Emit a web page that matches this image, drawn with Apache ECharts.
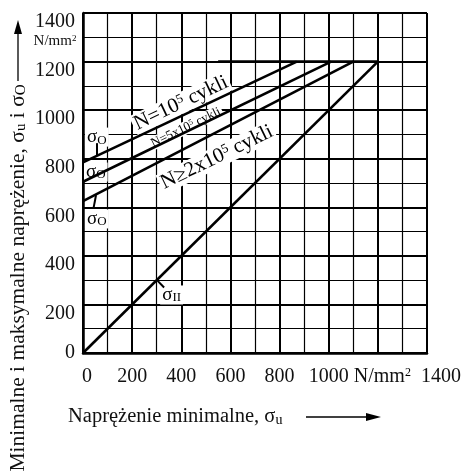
<!DOCTYPE html>
<html>
<head>
<meta charset="utf-8">
<script src="https://cdn.jsdelivr.net/npm/echarts@6/dist/echarts.min.js"></script>
<style>html,body{margin:0;padding:0;background:#fff}#c{width:464px;height:471px}</style>
</head>
<body>
<div id="c"></div>
<script>
// ---- data ----
const xTicks = [0, 200, 400, 600, 800, 1000, 1200, 1400];
const yTicks = [0, 200, 400, 600, 800, 1000, 1200, 1400];
const unitLabel = 'N/mm';
const unitPower = '2';
const n1e5X = [0, 870];    const n1e5Y = [785, 1200];   // N=10^5 cykli
const n5e5X = [0, 1010];   const n5e5Y = [705, 1200];   // N=5x10^5 cykli
const n2e5X = [0, 1100];   const n2e5Y = [625, 1200];   // N>=2x10^5 cykli
const sigmaUX = [0, 1200]; const sigmaUY = [0, 1200];   // sigma_u line
const limitX = [550, 1200]; const limitY = [1200, 1200]; // upper limit
const yTitle = 'Minimalne i maksymalne naprężenie, σ{sub|u} i σ{sub|O}';
const xTitle = 'Naprężenie minimalne, σ{sub|u}';

const FF = '"Liberation Serif","Times New Roman",serif';
const zip = (xs, ys) => xs.map((x, i) => [x, ys[i]]);

function richSet(size) {
  return {
    sup: {fontFamily: FF, fontSize: Math.round(size * 0.62), lineHeight: Math.round(size * 0.62), verticalAlign: 'top', fill: '#000', color: '#000'},
    sub: {fontFamily: FF, fontSize: Math.round(size * 0.68), lineHeight: Math.round(size * 0.68), verticalAlign: 'bottom', fill: '#000', color: '#000'}
  };
}

const lineSeries = (name, xs, ys) => ({
  name, type: 'line', data: zip(xs, ys), symbol: 'none', z: 3,
  lineStyle: {color: '#000', width: 2.6}, animation: false, silent: true
});

const chart = echarts.init(document.getElementById('c'), null, {renderer: 'canvas'});
const axisCommon = {
  type: 'value', min: 0, max: 1400, interval: 200,
  axisLine: {show: true, lineStyle: {color: '#000', width: 2.5}},
  axisTick: {show: false},
  splitLine: {show: true, lineStyle: {color: '#000', width: 2}},
  minorTick: {show: false, splitNumber: 2},
  minorSplitLine: {show: true, lineStyle: {color: '#000', width: 1.2}}
};
const option = {
  animation: false,
  backgroundColor: '#fff',
  grid: {left: 83, right: 36.5, top: 13, bottom: 118, containLabel: false},
  xAxis: Object.assign({}, axisCommon, {
    axisLabel: {
      show: true, showMaxLabel: true, showMinLabel: true, margin: 14,
      fontFamily: FF, fontSize: 20, color: '#111',
      formatter: v => v === 1200 ? '{u|' + unitLabel + '}{sup|' + unitPower + '}'
                  : v === 1400 ? '{r|' + v + '}'
                  : v === 0 ? '{z|0}' : String(v),
      rich: Object.assign(richSet(20), {
        u: {fontFamily: FF, fontSize: 20, color: '#111', padding: [0, 0, 0, 9]},
        r: {fontFamily: FF, fontSize: 20, color: '#111', padding: [0, 0, 0, 28]},
        z: {fontFamily: FF, fontSize: 20, color: '#111', padding: [0, 0, 0, 8]}
      })
    }
  }),
  yAxis: Object.assign({}, axisCommon, {
    axisLabel: {
      show: true, showMaxLabel: true, margin: 8,
      fontFamily: FF, fontSize: 20, color: '#111',
      formatter: v => v === 0 ? '0' : '{d|' + v + '}',
      rich: {d: {fontFamily: FF, fontSize: 20, color: '#111', padding: [18, 0, 0, 0]}}
    }
  }),
  series: [
    lineSeries('N=10^5 cykli', n1e5X, n1e5Y),
    lineSeries('N=5x10^5 cykli', n5e5X, n5e5Y),
    lineSeries('N≥2x10^5 cykli', n2e5X, n2e5Y),
    lineSeries('σII', sigmaUX, sigmaUY),
    lineSeries('limit', limitX, limitY)
  ]
};
chart.setOption(option);

// ---- annotations, anchored in data space ----
const P = (x, y) => chart.convertToPixel({gridIndex: 0}, [x, y]);
const deg = d => d * Math.PI / 180;
function text(pt, str, size, rot, align, bg) {
  return {
    type: 'text', x: pt[0], y: pt[1], rotation: rot ? deg(rot) : 0, z: 1, silent: true,
    style: {
      text: str, fontFamily: FF, fontSize: size, fill: '#000',
      align: align || 'center', verticalAlign: 'middle',
      backgroundColor: bg === false ? null : '#fff', padding: [0, 2, 0, 2],
      rich: richSet(size)
    }
  };
}
function seg(a, b, w) {
  return {type: 'line', z: 5, silent: true,
    shape: {x1: a[0], y1: a[1], x2: b[0], y2: b[1]},
    style: {stroke: '#000', lineWidth: w || 2}};
}
const g = [];
g.push(text(P(399, 1029), 'N=10{sup|5} cykli', 21, 25.5));
g.push(text(P(419, 928), 'N=5x10{sup|5} cykli', 13, 26));
g.push(text(P(545, 806), 'N≥2x10{sup|5} cykli', 21, 26));
g.push(text(P(8, 889), 'σ{sub|O}', 19, 0, 'left'));
g.push(text(P(4, 745), 'σ{sub|O}', 19, 0, 'left'));
g.push(text(P(8, 552), 'σ{sub|O}', 19, 0, 'left'));
g.push(text(P(314, 239), 'σ{sub|II}', 19, 0, 'left'));
g.push(seg(P(57, 864), P(57, 812)));
g.push(seg(P(43, 597), P(53, 650)));
g.push(seg(P(301, 300), P(330, 270)));
// unit under 1400 on the value axis
const u = P(0, 1300);
g.push({type: 'text', x: u[0] - 28, y: u[1] + 4, z: 1, silent: true,
  style: {text: unitLabel + '{sup|' + unitPower + '}', fontFamily: FF, fontSize: 15, fill: '#111',
    align: 'center', verticalAlign: 'middle', rich: richSet(15)}});
// axis titles with arrows
g.push({type: 'text', x: 18, y: 278, rotation: Math.PI / 2, silent: true,
  style: {text: yTitle, fontFamily: FF, fontSize: 21.5, fill: '#111', align: 'center', verticalAlign: 'middle', rich: richSet(21.5)}});
g.push(seg([18, 81], [18, 32], 1.3));
g.push({type: 'polygon', silent: true, shape: {points: [[18, 20], [14, 34], [22, 34]]}, style: {fill: '#000'}});
g.push({type: 'text', x: 68, y: 417, silent: true,
  style: {text: xTitle, fontFamily: FF, fontSize: 20.5, fill: '#111', align: 'left', verticalAlign: 'middle', rich: richSet(20.5)}});
g.push(seg([306, 417], [370, 417], 1.3));
g.push({type: 'polygon', silent: true, shape: {points: [[381, 417], [366, 413], [366, 421]]}, style: {fill: '#000'}});

chart.setOption({graphic: {elements: g}});
</script>
</body>
</html>
